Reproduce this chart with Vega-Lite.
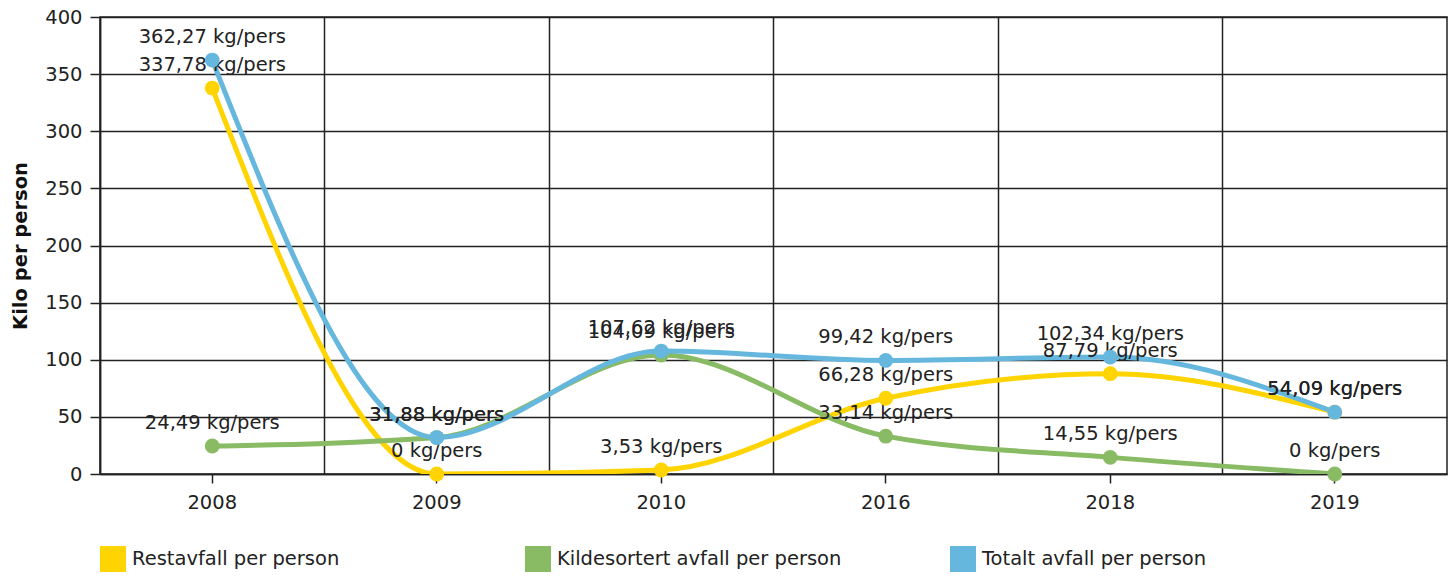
{
  "$schema": "https://vega.github.io/schema/vega-lite/v6.json",
  "width": 1347,
  "height": 457,
  "autosize": {"type": "none"},
  "padding": {"left": 100, "top": 17, "right": 8, "bottom": 102},
  "background": "white",
  "config": {
    "font": "DejaVu Sans",
    "view": {"stroke": "#222", "strokeWidth": 1.5}
  },
  "data": {
    "values": [
      {"year": "2008", "series": "Restavfall per person", "value": 337.78, "label": "337,78 kg/pers"},
      {"year": "2009", "series": "Restavfall per person", "value": 0, "label": "0 kg/pers"},
      {"year": "2010", "series": "Restavfall per person", "value": 3.53, "label": "3,53 kg/pers"},
      {"year": "2016", "series": "Restavfall per person", "value": 66.28, "label": "66,28 kg/pers"},
      {"year": "2018", "series": "Restavfall per person", "value": 87.79, "label": "87,79 kg/pers"},
      {"year": "2019", "series": "Restavfall per person", "value": 54.09, "label": "54,09 kg/pers"},
      {"year": "2008", "series": "Kildesortert avfall per person", "value": 24.49, "label": "24,49 kg/pers"},
      {"year": "2009", "series": "Kildesortert avfall per person", "value": 31.88, "label": "31,88 kg/pers"},
      {"year": "2010", "series": "Kildesortert avfall per person", "value": 104.09, "label": "104,09 kg/pers"},
      {"year": "2016", "series": "Kildesortert avfall per person", "value": 33.14, "label": "33,14 kg/pers"},
      {"year": "2018", "series": "Kildesortert avfall per person", "value": 14.55, "label": "14,55 kg/pers"},
      {"year": "2019", "series": "Kildesortert avfall per person", "value": 0, "label": "0 kg/pers"},
      {"year": "2008", "series": "Totalt avfall per person", "value": 362.27, "label": "362,27 kg/pers"},
      {"year": "2009", "series": "Totalt avfall per person", "value": 31.88, "label": "31,88 kg/pers"},
      {"year": "2010", "series": "Totalt avfall per person", "value": 107.62, "label": "107,62 kg/pers"},
      {"year": "2016", "series": "Totalt avfall per person", "value": 99.42, "label": "99,42 kg/pers"},
      {"year": "2018", "series": "Totalt avfall per person", "value": 102.34, "label": "102,34 kg/pers"},
      {"year": "2019", "series": "Totalt avfall per person", "value": 54.09, "label": "54,09 kg/pers"}
    ]
  },
  "encoding": {
    "y": {
      "field": "value",
      "type": "quantitative",
      "scale": {"domain": [0, 400], "nice": false, "zero": true},
      "axis": {
        "title": "Kilo per person",
        "titleFontSize": 19.5,
        "titleFontWeight": "bold",
        "titleColor": "#111",
        "titlePadding": 14,
        "values": [0, 50, 100, 150, 200, 250, 300, 350, 400],
        "labelFontSize": 19.5,
        "labelColor": "#222",
        "labelPadding": 8,
        "tickSize": 10,
        "tickColor": "#222",
        "tickWidth": 1.5,
        "domainColor": "#222",
        "domainWidth": 1.5,
        "grid": true,
        "gridColor": "#222",
        "gridWidth": 1.5
      }
    },
    "color": {
      "field": "series",
      "type": "nominal",
      "scale": {
        "domain": ["Restavfall per person", "Kildesortert avfall per person", "Totalt avfall per person"],
        "range": ["#FFD400", "#88BB64", "#66B7DE"]
      },
      "legend": {
        "title": null,
        "orient": "none",
        "legendX": 0,
        "legendY": 529,
        "direction": "horizontal",
        "gridAlign": "all",
        "columnPadding": 108,
        "symbolType": "square",
        "symbolSize": 676,
        "symbolStrokeWidth": 0,
        "symbolOpacity": 1,
        "labelFontSize": 19.5,
        "labelColor": "#222",
        "labelOffset": 6,
        "labelLimit": 400,
        "encode": {
          "symbols": {
            "update": {
              "fill": {"scale": "color", "field": "value"},
              "stroke": {"value": "transparent"},
              "opacity": {"value": 1}
            }
          }
        }
      }
    }
  },
  "layer": [
    {
      "mark": {"type": "line", "interpolate": "monotone", "strokeWidth": 5, "clip": true},
      "encoding": {
        "x": {
          "field": "year",
          "type": "ordinal",
          "scale": {"type": "band", "paddingInner": 0, "paddingOuter": 0},
          "axis": {
            "orient": "bottom",
            "title": null,
            "grid": true,
            "gridColor": "#222",
            "gridWidth": 1.5,
            "bandPosition": 0,
            "labels": false,
            "ticks": false,
            "domain": false
          }
        }
      }
    },
    {
      "mark": {"type": "text", "fontSize": 19.5, "baseline": "middle", "align": "center", "dy": -23, "fill": "#222"},
      "encoding": {
        "x": {
          "field": "year",
          "type": "ordinal",
          "scale": {"type": "band", "paddingInner": 0, "paddingOuter": 0},
          "axis": null
        },
        "text": {"field": "label"},
        "color": {"value": "#222"}
      }
    },
    {
      "mark": {"type": "point", "filled": true, "size": 220, "opacity": 1},
      "encoding": {
        "x": {
          "field": "year",
          "type": "ordinal",
          "scale": {"type": "band", "paddingInner": 0, "paddingOuter": 0},
          "axis": {
            "orient": "bottom",
            "title": null,
            "grid": false,
            "labelAngle": 0,
            "labelFontSize": 19.5,
            "labelColor": "#222",
            "labelPadding": 10,
            "tickSize": 9,
            "tickColor": "#222",
            "tickWidth": 1.5,
            "domain": true,
            "domainColor": "#222",
            "domainWidth": 1.5
          }
        }
      }
    }
  ],
  "resolve": {"axis": {"x": "independent"}}
}
